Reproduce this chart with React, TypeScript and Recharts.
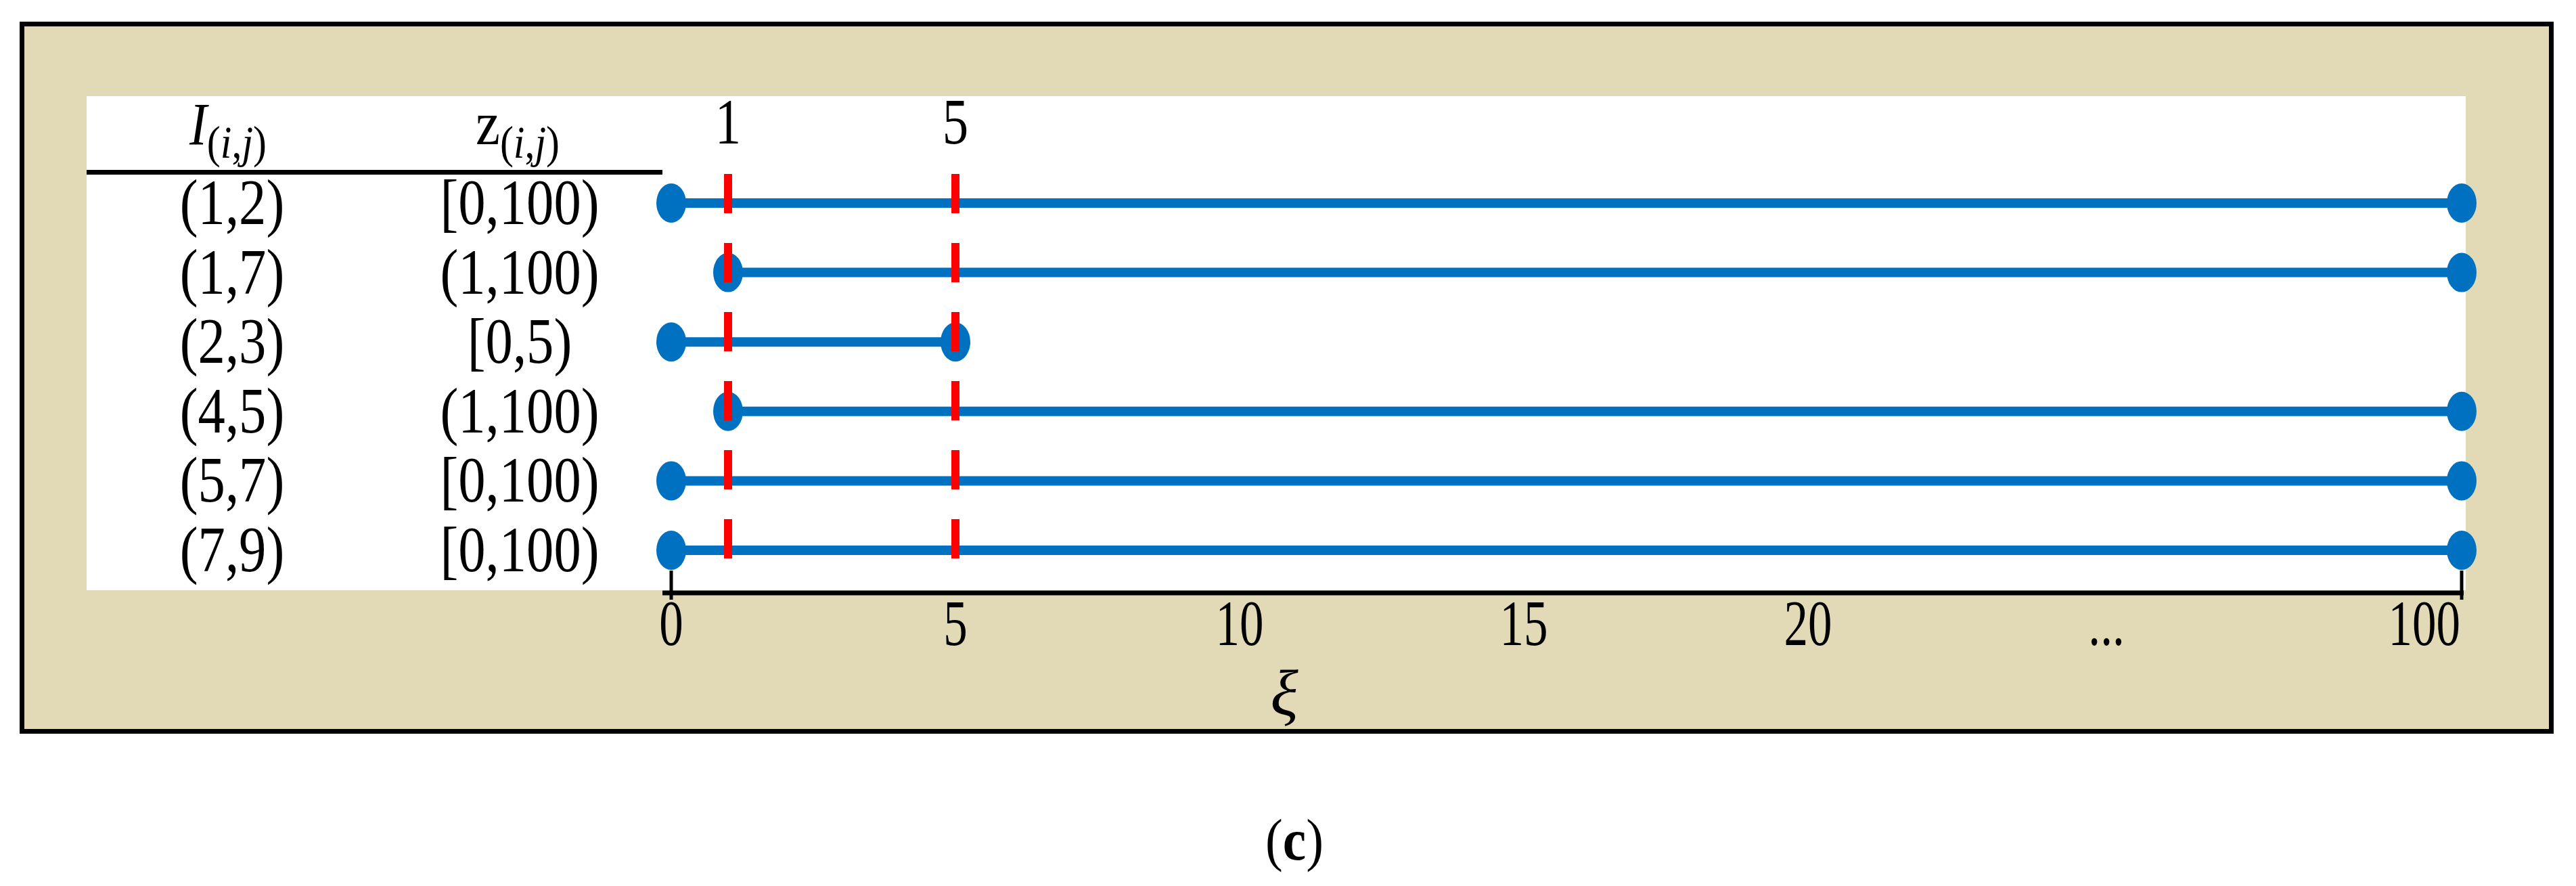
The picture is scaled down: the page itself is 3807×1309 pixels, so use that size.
import React from "react";
import { ScatterChart, Scatter, XAxis, YAxis, ReferenceLine } from "recharts";

const pairs = ["(1,2)", "(1,7)", "(2,3)", "(4,5)", "(5,7)", "(7,9)"];
const intervals = ["[0,100)", "(1,100)", "[0,5)", "(1,100)", "[0,100)", "[0,100)"];
const starts = [0, 1, 0, 1, 0, 0];
const ends = [100, 100, 5, 100, 100, 100];
const cuts = [1, 5];
const tickLabels = ["0", "5", "10", "15", "20", "...", "100"];

const BLUE = "#0070C0";
const RED = "#FF0000";
const BEIGE = "#E2D9B6";
const FONT = "'Liberation Serif', 'Times New Roman', serif";

// broken axis: 0..20 in steps of 5, a gap ("..."), then 100 at the far end
const LAST = 6.3;
const axisPos = (v: number) => (v <= 20 ? v / 5 : LAST);
const tickPos = [0, 1, 2, 3, 4, 5.05, LAST];

const rows = pairs.map((_, i) => [
  { x: axisPos(starts[i]), y: i },
  { x: axisPos(ends[i]), y: i },
]);

const Dot = (props: any) => (
  <ellipse cx={props.cx} cy={props.cy} rx={22} ry={29} fill={BLUE} />
);

const RowTick = (props: any) => {
  const { x, y, payload } = props;
  const i = payload.value;
  return (
    <g fontFamily={FONT} fontSize={96} fill="#000">
      <text transform={`translate(${x - 636} ${y + 31}) scale(0.84 1)`} textAnchor="middle">
        {pairs[i]}
      </text>
      <text transform={`translate(${x - 211} ${y + 31}) scale(0.84 1)`} textAnchor="middle">
        {intervals[i]}
      </text>
    </g>
  );
};

const AxisTick = (props: any) => {
  const { x, y, payload } = props;
  const idx = tickPos.indexOf(payload.value);
  const last = idx === tickPos.length - 1;
  const end = idx === 0 || last;
  return (
    <g>
      {end && <line x1={x} x2={x} y1={y - 33} y2={y + 10} stroke="#000" strokeWidth={5} />}
      <text
        transform={`translate(${last ? x - 2 : x} ${y + 77}) scale(0.74 1)`}
        textAnchor={last ? "end" : "middle"}
        fontFamily={FONT}
        fontSize={96}
        fill="#000"
      >
        {tickLabels[idx]}
      </text>
    </g>
  );
};

const Header = (p: any) => {
  const { x, y, width } = p.viewBox;
  return (
    <g fontFamily={FONT} fill="#000">
      <text transform={`translate(${x + 209} ${y - 45}) scale(0.88 1)`} textAnchor="middle" fontSize={88}>
        <tspan fontStyle="italic">I</tspan>
        <tspan fontSize={68} dy={20}>
          (<tspan fontStyle="italic">i</tspan>,<tspan fontStyle="italic">j</tspan>)
        </tspan>
      </text>
      <text transform={`translate(${x + 637} ${y - 45}) scale(0.88 1)`} textAnchor="middle" fontSize={92}>
        <tspan>z</tspan>
        <tspan fontSize={68} dy={20}>
          (<tspan fontStyle="italic">i</tspan>,<tspan fontStyle="italic">j</tspan>)
        </tspan>
      </text>
      <line x1={x} x2={x + width} y1={y - 3.5} y2={y - 3.5} stroke="#000" strokeWidth={7} />
    </g>
  );
};

const XiLabel = (p: any) => {
  const { x, y } = p.viewBox;
  return (
    <text x={x + 919} y={y + 180} textAnchor="middle" fontFamily={FONT} fontStyle="italic" fontSize={96} fill="#000">
      ξ
    </text>
  );
};

const CutLabel = (text: string) => (p: any) => {
  const { x, y } = p.viewBox;
  return (
    <text
      transform={`translate(${x} ${y - 45}) scale(0.8 1)`}
      textAnchor="middle"
      fontFamily={FONT}
      fontSize={96}
      fill="#000"
    >
      {text}
    </text>
  );
};

export default function App() {
  return (
    <div style={{ position: "absolute", left: 0, top: 0, width: 3807, height: 1309, background: "#fff" }}>
      <div
        style={{
          position: "absolute",
          left: 29,
          top: 32,
          width: 3745,
          height: 1052,
          border: "7px solid #000",
          boxSizing: "border-box",
          background: BEIGE,
        }}
      />
      <div style={{ position: "absolute", left: 128, top: 142, width: 3516, height: 730, background: "#fff" }} />
      <div style={{ position: "absolute", left: 0, top: 0 }}>
        <ScatterChart width={3807} height={1309} margin={{ top: 258, left: 128, right: 166, bottom: 233 }}>
          <XAxis
            type="number"
            dataKey="x"
            domain={[0, LAST]}
            ticks={tickPos}
            interval={0}
            padding={{ left: 13, right: 3 }}
            height={200}
            tickSize={0}
            tickMargin={0}
            tickLine={false}
            axisLine={{ stroke: "#000", strokeWidth: 7 }}
            tick={AxisTick}
            label={XiLabel}
          />
          <YAxis
            type="number"
            dataKey="y"
            domain={[0, pairs.length - 1]}
            reversed
            ticks={pairs.map((_, i) => i)}
            interval={0}
            width={851}
            padding={{ top: 42, bottom: 63 }}
            tickSize={0}
            tickMargin={0}
            tickLine={false}
            axisLine={false}
            tick={RowTick}
            label={Header}
          />
          {rows.map((d, i) => (
            <Scatter
              key={pairs[i]}
              data={d}
              fill={BLUE}
              line={{ stroke: BLUE, strokeWidth: 14 }}
              lineType="joint"
              shape={Dot}
              isAnimationActive={false}
            />
          ))}
          {cuts.map((c) => (
            <ReferenceLine
              key={c}
              segment={[
                { x: axisPos(c), y: -0.42 },
                { x: axisPos(c), y: pairs.length - 1 + 0.14 },
              ]}
              stroke={RED}
              strokeWidth={12}
              strokeDasharray="58 44"
              ifOverflow="visible"
              zIndex={1000}
              label={CutLabel(String(c))}
            />
          ))}
        </ScatterChart>
      </div>
      <svg style={{ position: "absolute", left: 0, top: 1150 }} width={3807} height={159}>
        <text
          transform="translate(1913 120) scale(0.9 1)"
          textAnchor="middle"
          fontFamily={FONT}
          fontSize={86}
          fill="#000"
        >
          (<tspan fontWeight="bold">c</tspan>)
        </text>
      </svg>
    </div>
  );
}
